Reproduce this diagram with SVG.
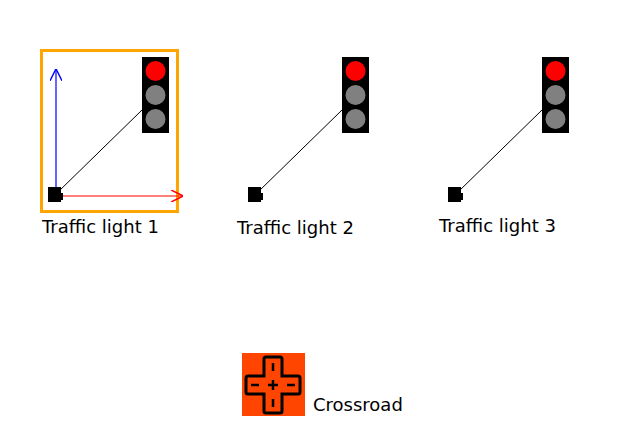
<svg xmlns="http://www.w3.org/2000/svg" width="618" height="448" viewBox="0 0 618 448">
<style>
.lbl{font-family:"DejaVu Sans",sans-serif;font-size:18px;fill:#000}
.house{fill:#000}
.off{fill:#808080}
.on{fill:#f00}
.wire{stroke:#000;stroke-width:1;fill:none}
</style>
<defs>
<marker id="ob" viewBox="0 0 10 10" refX="9" refY="5" markerWidth="12" markerHeight="12" markerUnits="userSpaceOnUse" orient="auto"><path d="M0,0L10,5L0,10" fill="none" stroke="blue" stroke-width="1.2"/></marker>
<marker id="or" viewBox="0 0 10 10" refX="9" refY="5" markerWidth="12" markerHeight="12" markerUnits="userSpaceOnUse" orient="auto"><path d="M0,0L10,5L0,10" fill="none" stroke="red" stroke-width="1.2"/></marker>
<g id="tl"><rect class="house" x="0" y="0" width="27" height="76"/><circle class="on" cx="13.5" cy="14" r="10"/><circle class="off" cx="13.5" cy="38" r="10"/><circle class="off" cx="13.5" cy="62" r="10"/></g>
<g id="pin"><rect x="0" y="0" width="13" height="15" fill="#000"/><rect x="12" y="6" width="3" height="7" fill="#000"/></g>
</defs>
<rect x="41.5" y="50.5" width="136" height="161" fill="none" stroke="orange" stroke-width="3"/>
<g id="connectors">
<line class="wire" x1="58" y1="192" x2="142" y2="110"/>
<line class="wire" x1="258" y1="192" x2="342" y2="110"/>
<line class="wire" x1="458" y1="192" x2="542" y2="110"/>
<line x1="56" y1="196" x2="56" y2="70" stroke="blue" stroke-width="1.2" marker-end="url(#ob)"/>
<line x1="56" y1="196" x2="182" y2="196" stroke="red" stroke-width="1.2" marker-end="url(#or)"/>
</g>
<g id="light1"><use href="#tl" x="142" y="57"/><use href="#pin" x="48" y="187"/><text class="lbl" x="42" y="233">Traffic light 1</text></g>
<g id="light2"><use href="#tl" x="342" y="57"/><use href="#pin" x="248" y="187"/><text class="lbl" x="237" y="234">Traffic light 2</text></g>
<g id="light3"><use href="#tl" x="542" y="57"/><use href="#pin" x="448" y="187"/><text class="lbl" x="439" y="232">Traffic light 3</text></g>
<g id="crossroad">
<rect x="242" y="353" width="63" height="63" fill="#ff4500"/>
<path d="M266,357h14a2,2 0 0 1 2,2v17h16a2,2 0 0 1 2,2v14a2,2 0 0 1 -2,2h-16v17a2,2 0 0 1 -2,2h-14a2,2 0 0 1 -2,-2v-17h-16a2,2 0 0 1 -2,-2v-14a2,2 0 0 1 2,-2h16v-17a2,2 0 0 1 2,-2z" fill="none" stroke="#000" stroke-width="3"/>
<g stroke="#000" stroke-width="2.5"><line x1="273" y1="363" x2="273" y2="371"/><line x1="273" y1="399" x2="273" y2="407"/><line x1="251" y1="385" x2="259" y2="385"/><line x1="287" y1="385" x2="295" y2="385"/><line x1="268" y1="385" x2="278" y2="385"/><line x1="273" y1="380" x2="273" y2="390"/></g>
<text class="lbl" x="313" y="411">Crossroad</text>
</g>
</svg>
